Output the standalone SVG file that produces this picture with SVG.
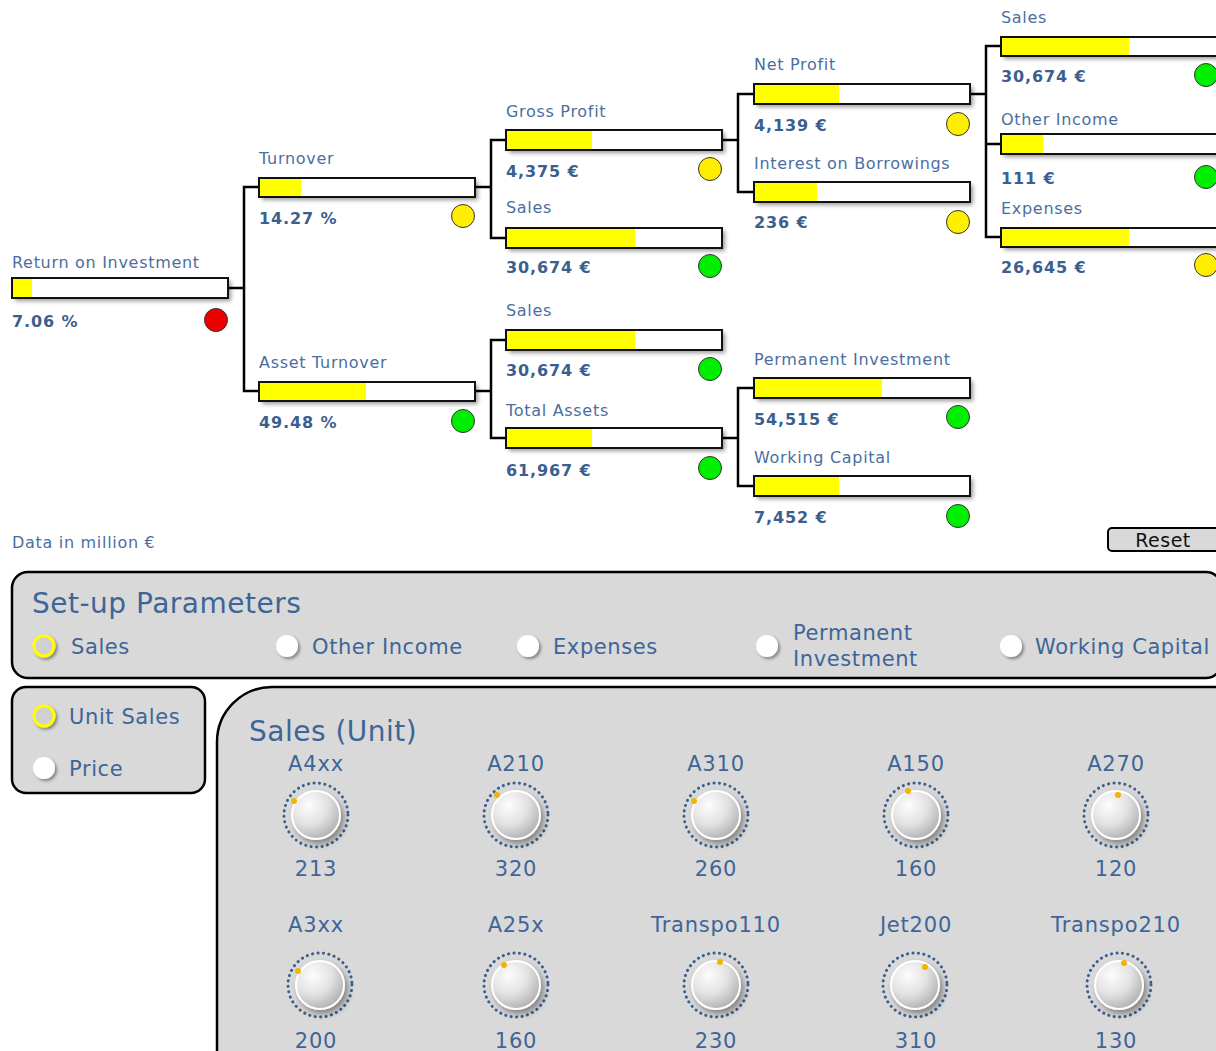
<svg xmlns="http://www.w3.org/2000/svg" width="1216" height="1051" viewBox="0 0 1216 1051">
<defs>
<style>
text{font-family:"DejaVu Sans",Verdana,sans-serif}
.lbl{font-size:16px;fill:#4a6f9f;letter-spacing:0.7px}
.val{font-size:16px;font-weight:bold;fill:#3b6090;letter-spacing:0.9px}
.bar{fill:#fff;filter:url(#sh)}
.yel{fill:#ffff00}
.out{fill:none;stroke:#111;stroke-width:2}
.ind{stroke:#333;stroke-width:1}
.g{fill:#00ee00}.y{fill:#ffee00}.r{fill:#ee0000}
.con{fill:none;stroke:#000;stroke-width:2.5}
.panel{fill:#d9d9d9;stroke:#000;stroke-width:2.5}
.ptxt{font-size:21px;fill:#3e6597;letter-spacing:0.6px}
.title{font-size:28px;fill:#3e6597;letter-spacing:0.5px}
.klbl{font-size:21px;fill:#3e6597;text-anchor:middle;letter-spacing:0.8px}
.ring{fill:none;stroke:#3b6090;stroke-width:3;stroke-dasharray:0.1 5.4;stroke-linecap:round}
.knob{fill:url(#kg);stroke:#fff;stroke-width:2;filter:url(#ksh)}
.dot{fill:#f2b400}
.rad{fill:#fff;filter:url(#rsh)}
.radsel{fill:#d0d0d0;stroke:#ffff00;stroke-width:3;filter:url(#rsh)}
</style>
<filter id="sh" x="-5%" y="-30%" width="115%" height="180%"><feDropShadow dx="3" dy="3" stdDeviation="2" flood-color="#000" flood-opacity="0.4"/></filter>
<filter id="ksh" x="-40%" y="-40%" width="190%" height="190%"><feDropShadow dx="3" dy="4" stdDeviation="3" flood-color="#000" flood-opacity="0.4"/></filter>
<filter id="rsh" x="-50%" y="-50%" width="200%" height="200%"><feDropShadow dx="2" dy="2" stdDeviation="1.5" flood-color="#000" flood-opacity="0.4"/></filter>
<radialGradient id="kg" cx="0.35" cy="0.3" r="0.8"><stop offset="0" stop-color="#fdfdfd"/><stop offset="0.5" stop-color="#e2e2e2"/><stop offset="1" stop-color="#a8a8a8"/></radialGradient>
</defs>
<rect width="1216" height="1051" fill="#fff"/>

<g id="connectors">
<path class="con" d="M228 288H244M259 187H244V391H259"/>
<path class="con" d="M475 187H491M506 140H491V238H506"/>
<path class="con" d="M475 391H491M506 340H491V438H506"/>
<path class="con" d="M722 140H738M754 94H738V192H754"/>
<path class="con" d="M722 438H738M754 388H738V486H754"/>
<path class="con" d="M970 94H986M1001 46H986V237H1001M986 144H1001"/>
</g>

<g id="roi"><text class="lbl" x="12" y="268">Return on Investment</text><rect class="bar" x="12" y="278" width="216" height="20"/><rect class="yel" x="13" y="279" width="19" height="18"/><rect class="out" x="12" y="278" width="216" height="20"/><text class="val" x="12" y="327">7.06 %</text><circle class="ind r" cx="216" cy="320" r="11.5"/></g>

<g id="turnover"><text class="lbl" x="259" y="164">Turnover</text><rect class="bar" x="259" y="178" width="216" height="19"/><rect class="yel" x="260" y="179" width="41" height="17"/><rect class="out" x="259" y="178" width="216" height="19"/><text class="val" x="259" y="224">14.27 %</text><circle class="ind y" cx="463" cy="216" r="11.5"/></g>

<g id="asset-turnover"><text class="lbl" x="259" y="368">Asset Turnover</text><rect class="bar" x="259" y="382" width="216" height="19"/><rect class="yel" x="260" y="383" width="106" height="17"/><rect class="out" x="259" y="382" width="216" height="19"/><text class="val" x="259" y="428">49.48 %</text><circle class="ind g" cx="463" cy="421" r="11.5"/></g>

<g id="gross-profit"><text class="lbl" x="506" y="117">Gross Profit</text><rect class="bar" x="506" y="130" width="216" height="20"/><rect class="yel" x="507" y="131" width="85" height="18"/><rect class="out" x="506" y="130" width="216" height="20"/><text class="val" x="506" y="177">4,375 €</text><circle class="ind y" cx="710" cy="169" r="11.5"/></g>

<g id="sales-1"><text class="lbl" x="506" y="213">Sales</text><rect class="bar" x="506" y="228" width="216" height="20"/><rect class="yel" x="507" y="229" width="128" height="18"/><rect class="out" x="506" y="228" width="216" height="20"/><text class="val" x="506" y="273">30,674 €</text><circle class="ind g" cx="710" cy="266" r="11.5"/></g>

<g id="sales-2"><text class="lbl" x="506" y="316">Sales</text><rect class="bar" x="506" y="330" width="216" height="20"/><rect class="yel" x="507" y="331" width="128" height="18"/><rect class="out" x="506" y="330" width="216" height="20"/><text class="val" x="506" y="376">30,674 €</text><circle class="ind g" cx="710" cy="369" r="11.5"/></g>

<g id="total-assets"><text class="lbl" x="506" y="416">Total Assets</text><rect class="bar" x="506" y="428" width="216" height="20"/><rect class="yel" x="507" y="429" width="85" height="18"/><rect class="out" x="506" y="428" width="216" height="20"/><text class="val" x="506" y="476">61,967 €</text><circle class="ind g" cx="710" cy="468" r="11.5"/></g>

<g id="net-profit"><text class="lbl" x="754" y="70">Net Profit</text><rect class="bar" x="754" y="84" width="216" height="20"/><rect class="yel" x="755" y="85" width="84" height="18"/><rect class="out" x="754" y="84" width="216" height="20"/><text class="val" x="754" y="131">4,139 €</text><circle class="ind y" cx="958" cy="124" r="11.5"/></g>

<g id="interest"><text class="lbl" x="754" y="169">Interest on Borrowings</text><rect class="bar" x="754" y="182" width="216" height="20"/><rect class="yel" x="755" y="183" width="62" height="18"/><rect class="out" x="754" y="182" width="216" height="20"/><text class="val" x="754" y="228">236 €</text><circle class="ind y" cx="958" cy="222" r="11.5"/></g>

<g id="permanent-investment"><text class="lbl" x="754" y="365">Permanent Investment</text><rect class="bar" x="754" y="378" width="216" height="20"/><rect class="yel" x="755" y="379" width="127" height="18"/><rect class="out" x="754" y="378" width="216" height="20"/><text class="val" x="754" y="425">54,515 €</text><circle class="ind g" cx="958" cy="417" r="11.5"/></g>

<g id="working-capital"><text class="lbl" x="754" y="463">Working Capital</text><rect class="bar" x="754" y="476" width="216" height="20"/><rect class="yel" x="755" y="477" width="84" height="18"/><rect class="out" x="754" y="476" width="216" height="20"/><text class="val" x="754" y="523">7,452 €</text><circle class="ind g" cx="958" cy="516" r="11.5"/></g>

<g id="sales-3"><text class="lbl" x="1001" y="23">Sales</text><rect class="bar" x="1001" y="37" width="216" height="19"/><rect class="yel" x="1002" y="38" width="127" height="17"/><rect class="out" x="1001" y="37" width="216" height="19"/><text class="val" x="1001" y="82">30,674 €</text><circle class="ind g" cx="1206" cy="75" r="11.5"/></g>

<g id="other-income"><text class="lbl" x="1001" y="125">Other Income</text><rect class="bar" x="1001" y="134" width="216" height="20"/><rect class="yel" x="1002" y="135" width="41" height="18"/><rect class="out" x="1001" y="134" width="216" height="20"/><text class="val" x="1001" y="184">111 €</text><circle class="ind g" cx="1206" cy="177" r="11.5"/></g>

<g id="expenses"><text class="lbl" x="1001" y="214">Expenses</text><rect class="bar" x="1001" y="228" width="216" height="19"/><rect class="yel" x="1002" y="229" width="127" height="17"/><rect class="out" x="1001" y="228" width="216" height="19"/><text class="val" x="1001" y="273">26,645 €</text><circle class="ind y" cx="1206" cy="265" r="11.5"/></g>

<text class="lbl" x="12" y="548">Data in million €</text>

<g id="reset"><rect x="1108" y="528" width="112" height="23" rx="4" fill="#d9d9d9" stroke="#000" stroke-width="2"/><text x="1163" y="547" font-size="19" text-anchor="middle" fill="#111" letter-spacing="0.5">Reset</text></g>

<g id="setup-panel">
<rect class="panel" x="12" y="572" width="1210" height="106" rx="16"/>
<text class="title" x="32" y="613">Set-up Parameters</text>
<circle class="radsel" cx="44" cy="646" r="10"/><text class="ptxt" x="71" y="654">Sales</text>
<circle class="rad" cx="287" cy="646" r="11"/><text class="ptxt" x="312" y="654">Other Income</text>
<circle class="rad" cx="528" cy="646" r="11"/><text class="ptxt" x="553" y="654">Expenses</text>
<circle class="rad" cx="767" cy="646" r="11"/><text class="ptxt" x="793" y="640">Permanent</text><text class="ptxt" x="793" y="666">Investment</text>
<circle class="rad" cx="1011" cy="646" r="11"/><text class="ptxt" x="1035" y="654">Working Capital</text>
</g>

<g id="mode-panel">
<rect class="panel" x="12" y="687" width="193" height="106" rx="14"/>
<circle class="radsel" cx="44" cy="716" r="10"/><text class="ptxt" x="69" y="724">Unit Sales</text>
<circle class="rad" cx="44" cy="768" r="11"/><text class="ptxt" x="69" y="776">Price</text>
</g>

<g id="sales-unit-panel">
<rect class="panel" x="217" y="687" width="1060" height="420" rx="55"/>
<text class="title" x="249" y="741" font-size="30" letter-spacing="1">Sales (Unit)</text>

<g id="k-a4xx"><text class="klbl" x="316" y="771">A4xx</text><circle class="ring" cx="316" cy="815" r="32"/><circle class="knob" cx="316" cy="815" r="24"/><circle class="dot" cx="294" cy="801" r="3"/><text class="klbl" x="316" y="876">213</text></g>
<g id="k-a210"><text class="klbl" x="516" y="771">A210</text><circle class="ring" cx="516" cy="815" r="32"/><circle class="knob" cx="516" cy="815" r="24"/><circle class="dot" cx="497" cy="795" r="3"/><text class="klbl" x="516" y="876">320</text></g>
<g id="k-a310"><text class="klbl" x="716" y="771">A310</text><circle class="ring" cx="716" cy="815" r="32"/><circle class="knob" cx="716" cy="815" r="24"/><circle class="dot" cx="694" cy="801" r="3"/><text class="klbl" x="716" y="876">260</text></g>
<g id="k-a150"><text class="klbl" x="916" y="771">A150</text><circle class="ring" cx="916" cy="815" r="32"/><circle class="knob" cx="916" cy="815" r="24"/><circle class="dot" cx="908" cy="791" r="3"/><text class="klbl" x="916" y="876">160</text></g>
<g id="k-a270"><text class="klbl" x="1116" y="771">A270</text><circle class="ring" cx="1116" cy="815" r="32"/><circle class="knob" cx="1116" cy="815" r="24"/><circle class="dot" cx="1118" cy="795" r="3"/><text class="klbl" x="1116" y="876">120</text></g>

<g id="k-a3xx"><text class="klbl" x="316" y="932">A3xx</text><circle class="ring" cx="320" cy="985" r="32"/><circle class="knob" cx="320" cy="985" r="24"/><circle class="dot" cx="298" cy="971" r="3"/><text class="klbl" x="316" y="1048">200</text></g>
<g id="k-a25x"><text class="klbl" x="516" y="932">A25x</text><circle class="ring" cx="516" cy="985" r="32"/><circle class="knob" cx="516" cy="985" r="24"/><circle class="dot" cx="504" cy="965" r="3"/><text class="klbl" x="516" y="1048">160</text></g>
<g id="k-transpo110"><text class="klbl" x="716" y="932">Transpo110</text><circle class="ring" cx="716" cy="985" r="32"/><circle class="knob" cx="716" cy="985" r="24"/><circle class="dot" cx="720" cy="962" r="3"/><text class="klbl" x="716" y="1048">230</text></g>
<g id="k-jet200"><text class="klbl" x="916" y="932">Jet200</text><circle class="ring" cx="915" cy="985" r="32"/><circle class="knob" cx="915" cy="985" r="24"/><circle class="dot" cx="925" cy="967" r="3"/><text class="klbl" x="916" y="1048">310</text></g>
<g id="k-transpo210"><text class="klbl" x="1116" y="932">Transpo210</text><circle class="ring" cx="1119" cy="985" r="32"/><circle class="knob" cx="1119" cy="985" r="24"/><circle class="dot" cx="1124" cy="963" r="3"/><text class="klbl" x="1116" y="1048">130</text></g>
</g>
</svg>
